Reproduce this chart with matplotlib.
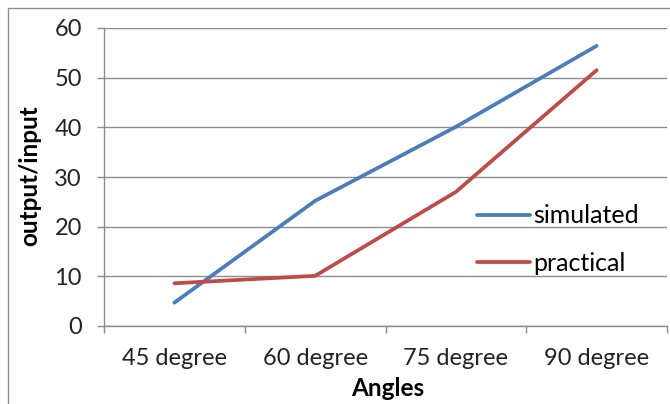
import matplotlib.pyplot as plt
from matplotlib.patches import Rectangle

categories = ["45 degree", "60 degree", "75 degree", "90 degree"]
simulated = [4.7, 25.2, 40.1, 56.4]
practical = [8.6, 10.1, 27.0, 51.5]

plt.rcParams['font.family'] = ['Lato', 'DejaVu Sans']

fig = plt.figure(figsize=(6.7, 4.04), dpi=100)
ax = fig.add_axes([104 / 670, 1 - 326 / 404, 563 / 670, 298 / 404])

x = list(range(len(categories)))
ax.plot(x, simulated, color="#4A7EBB", lw=2.7, solid_capstyle="round", label="simulated")
ax.plot(x, practical, color="#BE4B48", lw=2.7, solid_capstyle="round", label="practical")

ax.set_xlim(-0.5, len(categories) - 0.5)
ax.set_ylim(0, 60)
ax.set_yticks(range(0, 61, 10))
ax.yaxis.grid(True, color="#8c8c8c", lw=1)
ax.set_axisbelow(True)

# tick marks between categories, labels at the centres
ax.set_xticks([i - 0.5 for i in range(len(categories) + 1)])
ax.set_xticklabels([])
ax.set_xticks(x, minor=True)
ax.set_xticklabels(categories, minor=True)
ax.tick_params(axis="x", which="major", length=5, color="#8c8c8c", width=1)
ax.tick_params(axis="x", which="minor", length=0, pad=16, labelsize=17, labelcolor="#222222")
ax.tick_params(axis="y", length=5, color="#8c8c8c", width=1, pad=11, labelsize=17, labelcolor="#222222")

for s in ["top", "right"]:
    ax.spines[s].set_visible(False)
for s in ["left", "bottom"]:
    ax.spines[s].set_color("#8c8c8c")
    ax.spines[s].set_linewidth(1)

ax.legend(loc="center left", bbox_to_anchor=(0.645, 0.29), frameon=False,
          fontsize=18, handlelength=2.1, handletextpad=0.15, labelspacing=0.98,
          borderaxespad=0)

fig.text(30 / 670, 1 - 176 / 404, "output/input", rotation=90, fontsize=17.5,
         fontweight="bold", ha="center", va="center")
fig.text(388 / 670, 1 - 388 / 404, "Angles", fontsize=17.5, fontweight="bold",
         ha="center", va="center")

# chart border (cropped on right and bottom)
fig.patches.append(Rectangle((8 / 670, -0.05), 1.1, 1 - 8 / 404 + 0.05,
                             transform=fig.transFigure, fill=False,
                             edgecolor="#8c8c8c", lw=1))

fig.savefig("out.png", dpi=100)
